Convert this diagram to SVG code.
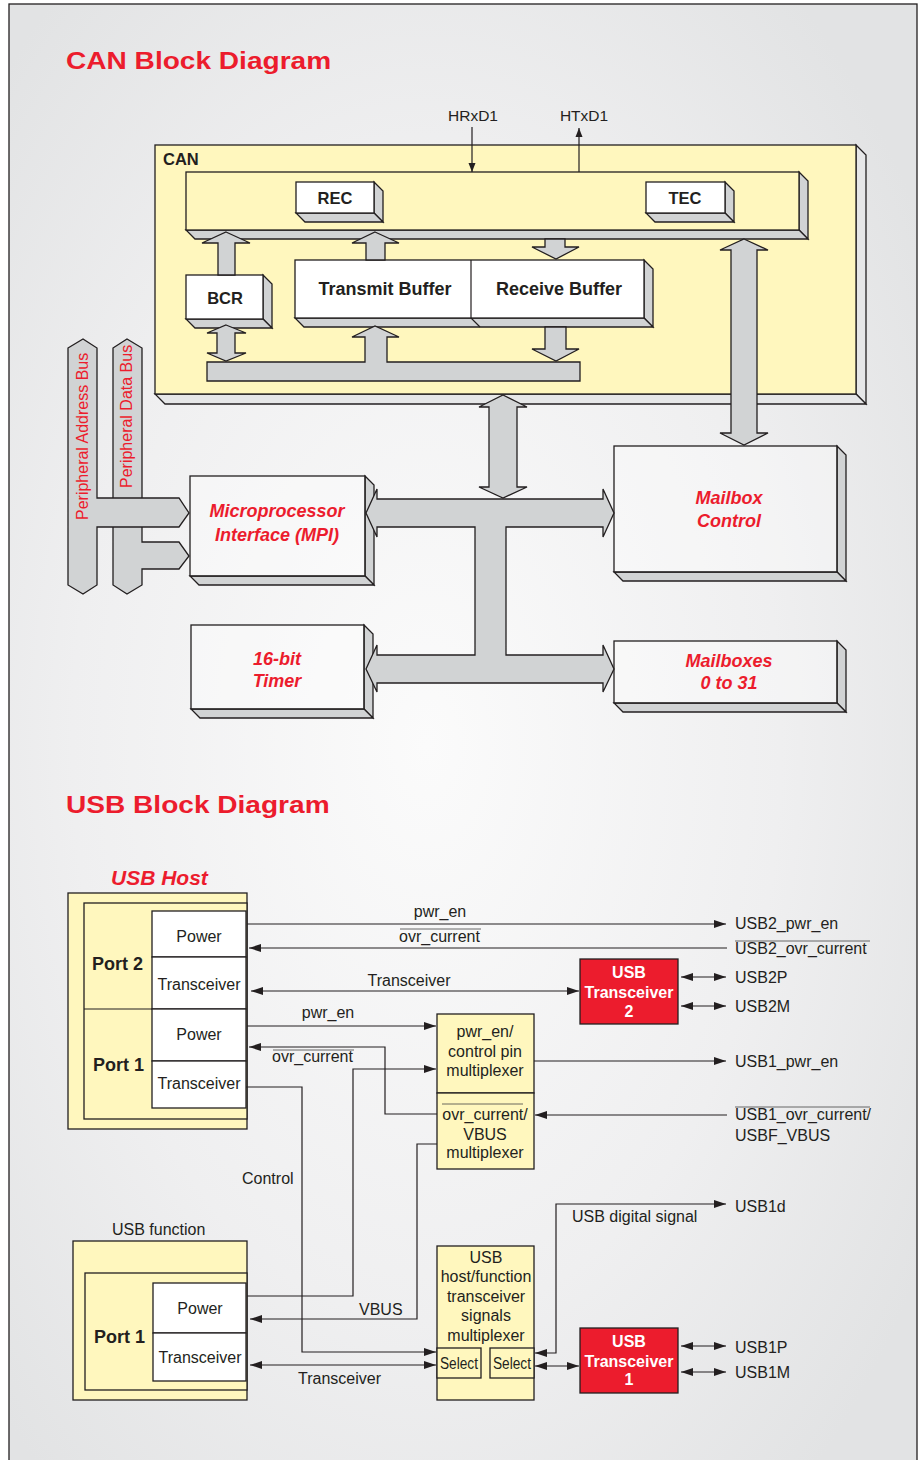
<svg xmlns="http://www.w3.org/2000/svg" width="922" height="1460" viewBox="0 0 922 1460">
<defs>
<radialGradient id="bg" cx="0.46" cy="0.5" r="0.65">
<stop offset="0" stop-color="#fbfbfb"/><stop offset="0.6" stop-color="#efeff0"/><stop offset="1" stop-color="#e2e3e4"/>
</radialGradient>
<marker id="a" viewBox="0 0 12 8" refX="12" refY="4" markerWidth="12" markerHeight="8" markerUnits="userSpaceOnUse" orient="auto-start-reverse"><path d="M0,0L12,4L0,8z" fill="#231f20"/></marker>
<marker id="s" viewBox="0 0 9 8" refX="9" refY="4" markerWidth="9" markerHeight="8" markerUnits="userSpaceOnUse" orient="auto-start-reverse"><path d="M0,0.5L9,4L0,7.5z" fill="#231f20"/></marker>
<style>
.ol{stroke:#231f20;stroke-width:1.3;stroke-linejoin:miter}
.gy{fill:#d1d3d4;stroke:#231f20;stroke-width:1.3}
.yl{fill:#fff7be;stroke:#231f20;stroke-width:1.3}
.wc{fill:#ffffff;stroke:#231f20;stroke-width:1.3}
.fr{fill:#ffffff;fill-opacity:0.35;stroke:#231f20;stroke-width:1.3}
.rd{fill:#ec1c2d;stroke:#231f20;stroke-width:1.3}
.ln{fill:none;stroke:#231f20;stroke-width:1.2}
.ov{fill:none;stroke:#444;stroke-width:0.8}
.tx{font-family:"Liberation Sans",Arial,Helvetica,sans-serif;fill:#231f20;font-size:16px}
.b{font-weight:bold}
.red{fill:#ec1c2d}
.it{font-style:italic}
.mid{text-anchor:middle}
.wt{fill:#ffffff}
.s155{font-size:15.5px}
.s165{font-size:16.5px}
.s18{font-size:18px}
.s21{font-size:21px}
.s24{font-size:24px}
</style>
</defs>
<rect x="0" y="0" width="922" height="1460" fill="#ffffff"/>
<rect x="9" y="4" width="908" height="1480" fill="url(#bg)" stroke="#231f20" stroke-width="1.3"/>

<text transform="translate(66,69) scale(1.17,1)" class="tx b red s24">CAN Block Diagram</text>
<text transform="translate(66,813) scale(1.17,1)" class="tx b red s24">USB Block Diagram</text>

<!-- CAN section nodes -->
<g id="can">
<polygon class="ol" fill="#e6e7e8" points="856,145 866,155 866,404 856,394"/>
<polygon class="ol" fill="#e6e7e8" points="155,394 856,394 866,404 165,404"/>
<rect class="yl" x="155" y="145" width="701" height="249"/>
<text x="163" y="165" class="tx b s165">CAN</text>
</g>
<g id="regbar">
<polygon class="gy" points="799,172 808,181 808,239 799,230"/>
<polygon class="gy" points="186,230 799,230 808,239 195,239"/>
<rect class="yl" x="186" y="172" width="613" height="58"/>
</g>
<g id="rec">
<polygon class="gy" points="374,182 383,191 383,222 374,213"/>
<polygon class="gy" points="296,213 374,213 383,222 305,222"/>
<rect class="wc" x="296" y="182" width="78" height="31"/>
<text x="335" y="204" class="tx b mid s165">REC</text>
</g>
<g id="tec">
<polygon class="gy" points="725,182 734,191 734,222 725,213"/>
<polygon class="gy" points="646,213 725,213 734,222 655,222"/>
<rect class="wc" x="646" y="182" width="79" height="31"/>
<text x="685" y="204" class="tx b mid s165">TEC</text>
</g>
<g id="bcr">
<polygon class="gy" points="263,275 272,284 272,328 263,319"/>
<polygon class="gy" points="186,319 263,319 272,328 195,328"/>
<rect class="wc" x="186" y="275" width="77" height="44"/>
<text x="225" y="304" class="tx b mid s165">BCR</text>
</g>
<g id="buffers">
<polygon class="gy" points="644,260 653,269 653,327 644,318"/>
<polygon class="gy" points="295,318 644,318 653,327 304,327"/>
<rect class="wc" x="295" y="260" width="349" height="58"/>
<polyline class="ln" points="471,260 471,318 480,327"/>
<text x="385" y="295" class="tx b mid s18">Transmit Buffer</text>
<text x="559" y="295" class="tx b mid s18">Receive Buffer</text>
</g>
<g id="mpi">
<polygon class="gy" points="365,476 374,485 374,585 365,576"/>
<polygon class="gy" points="190,576 365,576 374,585 199,585"/>
<rect class="fr" x="190" y="476" width="175" height="100"/>
<text x="277" y="517" class="tx b it red mid s18">Microprocessor</text>
<text x="277" y="541" class="tx b it red mid s18">Interface (MPI)</text>
</g>
<g id="timer">
<polygon class="gy" points="364,625 373,634 373,718 364,709"/>
<polygon class="gy" points="191,709 364,709 373,718 200,718"/>
<rect class="fr" x="191" y="625" width="173" height="84"/>
<text x="277" y="665" class="tx b it red mid s18">16-bit</text>
<text x="277" y="687" class="tx b it red mid s18">Timer</text>
</g>
<g id="mbctrl">
<polygon class="gy" points="837,446 846,455 846,581 837,572"/>
<polygon class="gy" points="614,572 837,572 846,581 623,581"/>
<rect class="fr" x="614" y="446" width="223" height="126"/>
<text x="729" y="504" class="tx b it red mid s18">Mailbox</text>
<text x="729" y="527" class="tx b it red mid s18">Control</text>
</g>
<g id="mailboxes">
<polygon class="gy" points="837,641 846,650 846,712 837,703"/>
<polygon class="gy" points="614,703 837,703 846,712 623,712"/>
<rect class="fr" x="614" y="641" width="223" height="62"/>
<text x="729" y="667" class="tx b it red mid s18">Mailboxes</text>
<text x="729" y="689" class="tx b it red mid s18">0 to 31</text>
</g>
<g id="databus">
<polygon class="gy" points="113,348 127,339 142,348 142,542 179,542 189,556 179,569 142,569 142,585 127,594 113,585"/>
<text transform="translate(132,488) rotate(-90)" class="tx red">Peripheral Data Bus</text>
</g>
<g id="addrbus">
<polygon class="gy" points="68,348 83,339 97,348 97,498 179,498 189,513 179,527 97,527 97,585 83,594 68,585"/>
<text transform="translate(88,520) rotate(-90)" class="tx red">Peripheral Address Bus</text>
</g>

<!-- CAN connectors -->
<g id="can-connectors">
<text x="473" y="121" class="tx mid s155">HRxD1</text>
<text x="584" y="121" class="tx mid s155">HTxD1</text>
<line class="ln" x1="472" y1="127" x2="472" y2="172" marker-end="url(#s)"/>
<line class="ln" x1="579" y1="172" x2="579" y2="128" marker-end="url(#s)"/>
<polygon class="gy" points="226,232 250,243 235,243 235,275 218,275 218,243 202,243"/>
<polygon class="gy" points="375,232 399,243 385,243 385,260 366,260 366,243 352,243"/>
<polygon class="gy" points="545,239 565,239 565,247 579,247 556,259 532,247 545,247"/>
<polygon class="gy" points="744,239 768,250 757,250 757,433 768,433 744,445 720,433 731,433 731,250 720,250"/>
<polygon class="gy" points="226,325 246,333 235,333 235,353 246,353 226,361 207,353 217,353 217,333 207,333"/>
<polygon class="gy" points="545,327 566,327 566,349 579,349 556,361 532,349 545,349"/>
<polygon class="gy" points="207,362 365,362 365,337 352,337 375,326 399,337 387,337 387,362 580,362 580,381 207,381"/>
<polygon class="gy" points="503,395 527,407 517,407 517,487 527,487 503,498 479,487 489,487 489,407 479,407"/>
<polygon class="gy" points="366,513 377,489 377,499 603,499 603,489 614,513 603,537 603,527 506,527 506,655 603,655 603,645 614,669 603,692 603,683 377,683 377,692 366,669 377,645 377,655 475,655 475,527 377,527 377,537"/>
</g>

<!-- USB nodes -->
<g id="usbhost">
<text x="111" y="885" class="tx b it red s21">USB Host</text>
<rect class="yl" x="68" y="893" width="179" height="236"/>
<rect class="yl" x="84" y="903" width="163" height="216"/>
<line class="ln" x1="84" y1="1009" x2="152" y2="1009"/>
<rect class="wc" x="152" y="911" width="94" height="46"/>
<rect class="wc" x="152" y="957" width="94" height="52"/>
<rect class="wc" x="152" y="1009" width="94" height="52"/>
<rect class="wc" x="152" y="1061" width="94" height="47"/>
<text x="92" y="970" class="tx b s18">Port 2</text>
<text x="93" y="1071" class="tx b s18">Port 1</text>
<text x="199" y="942" class="tx mid">Power</text>
<text x="199" y="990" class="tx mid">Transceiver</text>
<text x="199" y="1040" class="tx mid">Power</text>
<text x="199" y="1089" class="tx mid">Transceiver</text>
</g>
<g id="usbfunc">
<text x="112" y="1235" class="tx">USB function</text>
<rect class="yl" x="73" y="1241" width="174" height="159"/>
<rect class="yl" x="85" y="1273" width="162" height="117"/>
<rect class="wc" x="153" y="1283" width="93" height="50"/>
<rect class="wc" x="153" y="1333" width="93" height="48"/>
<text x="94" y="1343" class="tx b s18">Port 1</text>
<text x="200" y="1314" class="tx mid">Power</text>
<text x="200" y="1363" class="tx mid">Transceiver</text>
</g>
<g id="pwrmux">
<rect class="yl" x="437" y="1014" width="97" height="79"/>
<text x="485" y="1037" class="tx mid">pwr_en/</text>
<text x="485" y="1057" class="tx mid">control pin</text>
<text x="485" y="1076" class="tx mid">multiplexer</text>
</g>
<g id="vbusmux">
<rect class="yl" x="437" y="1093" width="97" height="76"/>
<text x="485" y="1120" class="tx mid">ovr_current/</text>
<line class="ov" x1="442" y1="1104" x2="523" y2="1104"/>
<text x="485" y="1140" class="tx mid">VBUS</text>
<text x="485" y="1158" class="tx mid">multiplexer</text>
</g>
<g id="hfmux">
<rect class="yl" x="437" y="1246" width="97" height="154"/>
<text x="486" y="1263" class="tx mid">USB</text>
<text x="486" y="1282" class="tx mid">host/function</text>
<text x="486" y="1302" class="tx mid">transceiver</text>
<text x="486" y="1321" class="tx mid">signals</text>
<text x="486" y="1341" class="tx mid">multiplexer</text>
<rect class="yl" x="437" y="1348" width="44" height="30"/>
<rect class="yl" x="490" y="1348" width="44" height="30"/>
<text x="459" y="1369" class="tx mid" textLength="38" lengthAdjust="spacingAndGlyphs">Select</text>
<text x="512" y="1369" class="tx mid" textLength="38" lengthAdjust="spacingAndGlyphs">Select</text>
</g>
<g id="xcvr2">
<rect class="rd" x="580" y="959" width="98" height="65"/>
<text x="629" y="978" class="tx b mid wt">USB</text>
<text x="629" y="998" class="tx b mid wt">Transceiver</text>
<text x="629" y="1017" class="tx b mid wt">2</text>
</g>
<g id="xcvr1">
<rect class="rd" x="580" y="1328" width="98" height="65"/>
<text x="629" y="1347" class="tx b mid wt">USB</text>
<text x="629" y="1367" class="tx b mid wt">Transceiver</text>
<text x="629" y="1385" class="tx b mid wt">1</text>
</g>

<!-- USB connectors -->
<g id="usb-connectors">
<path class="ln" d="M247,924H726" marker-end="url(#a)"/>
<path class="ln" d="M727,948H249" marker-end="url(#a)"/>
<path class="ln" d="M251,991H579" marker-start="url(#a)" marker-end="url(#a)"/>
<path class="ln" d="M681,977H726" marker-start="url(#a)" marker-end="url(#a)"/>
<path class="ln" d="M681,1006H726" marker-start="url(#a)" marker-end="url(#a)"/>
<path class="ln" d="M247,1026H436" marker-end="url(#a)"/>
<path class="ln" d="M437,1114H385V1047H249" marker-end="url(#a)"/>
<path class="ln" d="M247,1296H353V1069H436" marker-end="url(#a)"/>
<path class="ln" d="M246,1087H302V1352H436" marker-end="url(#a)"/>
<path class="ln" d="M437,1144H417V1319H250" marker-end="url(#a)"/>
<path class="ln" d="M250,1365H436" marker-start="url(#a)" marker-end="url(#a)"/>
<path class="ln" d="M534,1061H726" marker-end="url(#a)"/>
<path class="ln" d="M727,1115H535" marker-end="url(#a)"/>
<path class="ln" d="M535,1353H556V1204H726" marker-start="url(#a)" marker-end="url(#a)"/>
<path class="ln" d="M535,1366H579" marker-start="url(#a)" marker-end="url(#a)"/>
<path class="ln" d="M681,1346H726" marker-start="url(#a)" marker-end="url(#a)"/>
<path class="ln" d="M681,1372H726" marker-start="url(#a)" marker-end="url(#a)"/>
<text x="440" y="917" class="tx mid">pwr_en</text>
<text x="399" y="942" class="tx">ovr_current</text>
<line class="ov" x1="400" y1="929" x2="481" y2="929"/>
<text x="409" y="986" class="tx mid">Transceiver</text>
<text x="328" y="1018" class="tx mid">pwr_en</text>
<text x="272" y="1062" class="tx">ovr_current</text>
<line class="ov" x1="273" y1="1050" x2="354" y2="1050"/>
<text x="242" y="1184" class="tx">Control</text>
<text x="359" y="1315" class="tx">VBUS</text>
<text x="298" y="1384" class="tx">Transceiver</text>
<text x="572" y="1222" class="tx">USB digital signal</text>
<text x="735" y="929" class="tx">USB2_pwr_en</text>
<text x="735" y="954" class="tx">USB2_ovr_current</text>
<line class="ov" x1="735" y1="941" x2="870" y2="941"/>
<text x="735" y="983" class="tx">USB2P</text>
<text x="735" y="1012" class="tx">USB2M</text>
<text x="735" y="1067" class="tx">USB1_pwr_en</text>
<text x="735" y="1120" class="tx">USB1_ovr_current/</text>
<line class="ov" x1="735" y1="1107" x2="870" y2="1107"/>
<text x="735" y="1141" class="tx">USBF_VBUS</text>
<text x="735" y="1212" class="tx">USB1d</text>
<text x="735" y="1353" class="tx">USB1P</text>
<text x="735" y="1378" class="tx">USB1M</text>
</g>
</svg>
